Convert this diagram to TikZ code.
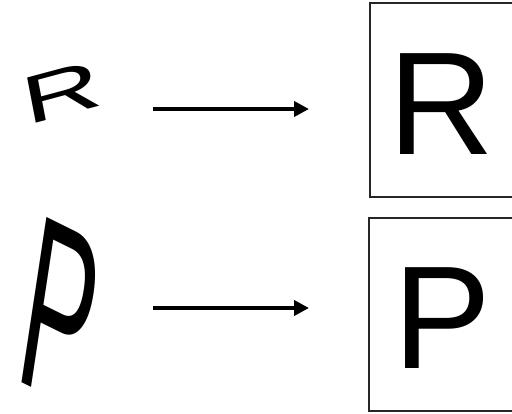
\documentclass[tikz,border=0pt]{standalone}
\usepackage{fontspec}
\setmainfont{Liberation Sans}
\usetikzlibrary{arrows.meta}
\begin{document}
\begin{tikzpicture}[x=1pt,y=1pt,
  box/.style={draw=black!85, line width=1.6pt, inner sep=0pt, anchor=south west},
  bigletter/.style={inner sep=0pt, anchor=base west, font=\fontsize{146.6}{150}\selectfont},
  conn/.style={line width=4pt, -{Triangle[length=15pt,width=15pt]}}]
\useasboundingbox (0,0) rectangle (512,413);
\clip (0,0) rectangle (512,413);
% boxes
\node[box, minimum width=170pt, minimum height=194pt] (boxR) at (369,215) {};
\node[box, minimum width=170pt, minimum height=193pt] (boxP) at (368,1) {};
% letters in boxes
\node[bigletter] (outR) at (388.4,258) {R};
\node[bigletter] (outP) at (393.7,45) {P};
% distorted input letters
\begin{scope}[cm={2.137,0.574,-0.251,1.313,(26.6,287.7)}]
  \node[transform shape, inner sep=0pt, anchor=base west, font=\fontsize{50}{60}\selectfont] (inR) at (0,0) {R};
\end{scope}
\begin{scope}[cm={1.026,-0.508,0.363,2.402,(13.1,34.9)}]
  \node[transform shape, inner sep=0pt, anchor=base west, font=\fontsize{100}{120}\selectfont] (inP) at (0,0) {P};
\end{scope}
% arrows
\coordinate (a1s) at (153,304);
\coordinate (a1e) at (309,304);
\coordinate (a2s) at (153,105);
\coordinate (a2e) at (309,105);
\draw[conn] (a1s) -- (a1e);
\draw[conn] (a2s) -- (a2e);
\end{tikzpicture}
\end{document}
